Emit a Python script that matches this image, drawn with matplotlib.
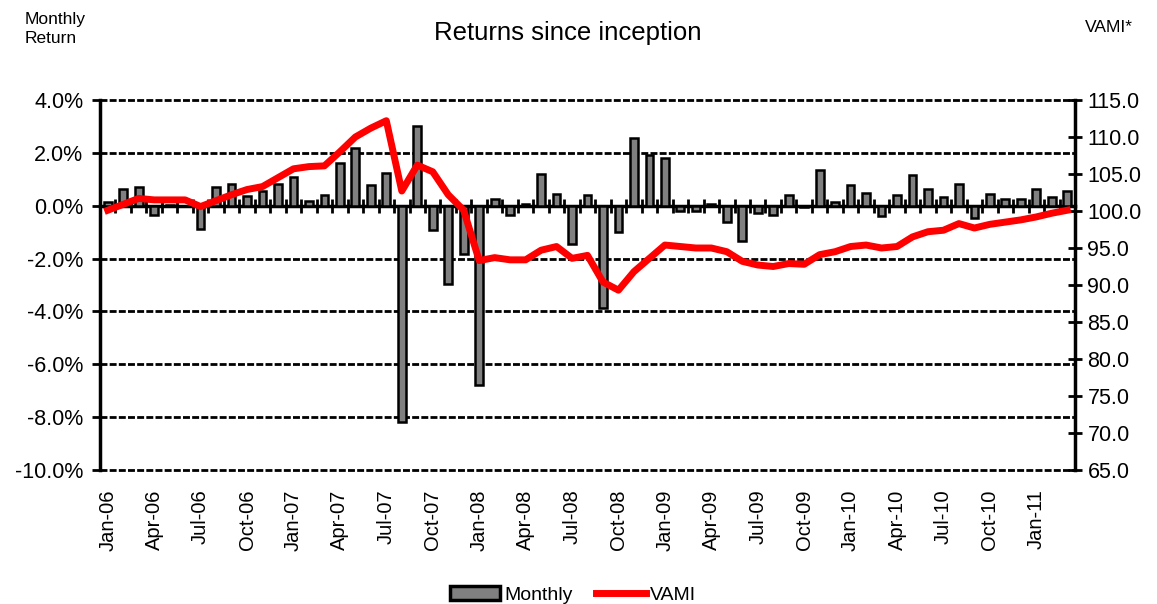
import numpy as np
import pandas as pd
import matplotlib
matplotlib.use("Agg")
import matplotlib.pyplot as plt
from matplotlib.patches import Patch
from matplotlib.lines import Line2D

plt.rcParams['font.family'] = ['Liberation Sans', 'DejaVu Sans']

# Meses desde Jan-06 hasta Mar-11
meses = pd.date_range("2006-01-01", periods=63, freq="MS").strftime("%b-%y").tolist()

# Rentabilidad mensual (%)
mensual = [0.15, 0.63, 0.72, -0.35, 0.03, -0.02, -0.88, 0.72, 0.82, 0.38,
           0.57, 0.82, 1.10, 0.19, 0.40, 1.60, 2.18, 0.78, 1.22, -8.20,
           3.00, -0.92, -2.97, -1.83, -6.80, 0.25, -0.34, 0.05, 1.20, 0.44,
           -1.43, 0.40, -3.87, -1.00, 2.55, 1.92, 1.79, -0.20, -0.20, 0.05,
           -0.63, -1.33, -0.28, -0.35, 0.40, -0.05, 1.36, 0.15, 0.78, 0.47,
           -0.40, 0.40, 1.16, 0.63, 0.34, 0.82, -0.48, 0.43, 0.25, 0.25,
           0.63, 0.34, 0.57]

# VAMI
vami = [100.1, 100.9, 101.7, 101.5, 101.5, 101.5, 100.6, 101.4, 102.2, 102.9,
        103.3, 104.5, 105.7, 106.0, 106.1, 108.0, 110.0, 111.2, 112.2, 102.7,
        106.2, 105.3, 102.2, 100.1, 93.3, 93.7, 93.4, 93.4, 94.7, 95.2,
        93.6, 94.0, 90.4, 89.3, 91.8, 93.6, 95.4, 95.2, 95.0, 95.0,
        94.5, 93.2, 92.7, 92.5, 92.9, 92.8, 94.1, 94.5, 95.2, 95.4,
        95.0, 95.2, 96.5, 97.2, 97.4, 98.3, 97.7, 98.2, 98.5, 98.8,
        99.2, 99.7, 100.1]

x = np.arange(len(meses))

fig = plt.figure(figsize=(11.57, 6.04), dpi=100)
ax = fig.add_axes([100/1157, 1-470/604, 975/1157, 370/604])
ax2 = ax.twinx()

# Barras mensuales
ax.bar(x, mensual, width=0.5, color="#808080", edgecolor="black", linewidth=1.8, zorder=2)
ax.set_xlim(-0.5, len(meses) - 0.5)
ax.set_ylim(-10, 4)
ax.set_yticks(np.arange(-10, 4.1, 2))
ax.set_yticklabels([f"{v:.1f}%" for v in np.arange(-10, 4.1, 2)], fontsize=15.5)
ax.yaxis.grid(True, color="black", linestyle=(0, (2.5, 0.8)), linewidth=2.0)
for g in ax.get_ygridlines():
    g.set_clip_on(False)
ax.set_axisbelow(True)
ax.tick_params(axis="y", direction="out", length=6, width=2, pad=6)

# Etiquetas del eje x cada 3 meses
ax.set_xticks(x[::3])
ax.set_xticklabels(meses[::3], rotation=90, fontsize=14.5)
ax.tick_params(axis="x", length=0, pad=14)

for lado in ["top", "bottom"]:
    ax.spines[lado].set_visible(False)
ax.spines["left"].set_linewidth(2.5)

# Linea del cero con marcas entre categorias
frac_cero = (0 - ax.get_ylim()[0]) / (ax.get_ylim()[1] - ax.get_ylim()[0])
sec = ax.secondary_xaxis(frac_cero)
sec.set_xticks(np.arange(-0.5, len(meses), 1))
sec.tick_params(direction="inout", length=10, width=2, labelbottom=False, labeltop=False)
for s in sec.spines.values():
    s.set_linewidth(2.5)

# VAMI
ax2.plot(x, vami, color="red", linewidth=5, solid_joinstyle="round", zorder=3)
ax2.set_ylim(65, 115)
ax2.set_yticks(np.arange(65, 115.1, 5))
ax2.set_yticklabels([f"{v:.1f}" for v in np.arange(65, 115.1, 5)], fontsize=15.5)
ax2.tick_params(axis="y", direction="inout", length=10, width=2, pad=4)
for lado in ["top", "bottom", "left"]:
    ax2.spines[lado].set_visible(False)
ax2.spines["right"].set_linewidth(2.5)

# Textos
fig.text(568/1157, 1-33/604, "Returns since inception", fontsize=18.5, ha="center", va="center")
fig.text(25/1157, 1-12/604, "Monthly\nReturn", fontsize=12.5, ha="left", va="top", linespacing=1.3)
fig.text(1085/1157, 1-27/604, "VAMI*", fontsize=12.5, ha="left", va="center")

handles = [Patch(facecolor="#808080", edgecolor="black", linewidth=2.5, label="Monthly"),
           Line2D([], [], color="red", linewidth=5, label="VAMI")]
fig.legend(handles=handles, loc="center", bbox_to_anchor=(573/1157, 1-595/604), ncol=2,
           frameon=False, fontsize=14, handlelength=2.6, handletextpad=0.2, columnspacing=1.2)

plt.savefig("out.png", dpi=100)
